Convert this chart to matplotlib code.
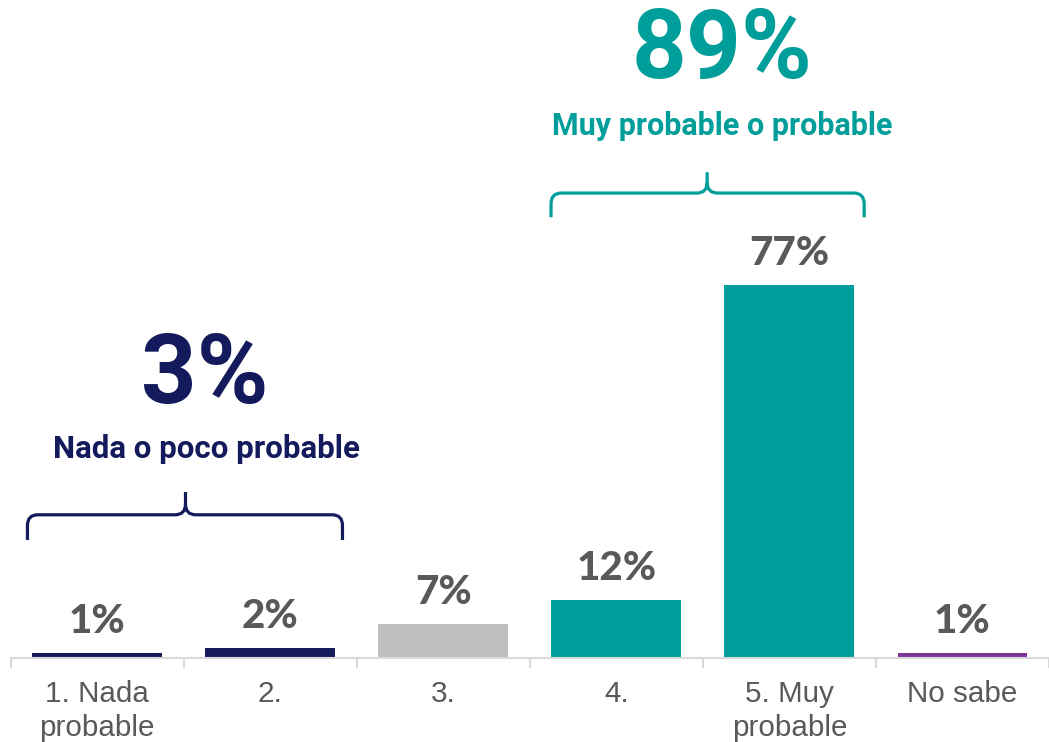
import matplotlib.pyplot as plt
from matplotlib.path import Path
from matplotlib.patches import PathPatch

categories = ['1. Nada\nprobable', '2.', '3.', '4.', '5. Muy\nprobable', 'No sabe']
values = [1, 2, 7, 12, 77, 1]
labels = ['1%', '2%', '7%', '12%', '77%', '1%']

group_values = ['3%', '89%']
group_names = ['Nada o poco probable', 'Muy probable o probable']

NAVY = '#141B5C'
TEAL = '#009E9A'
GRAY = '#BFBFBF'
PURPLE = '#7F3598'
TEXT = '#595959'
colors = [NAVY, NAVY, GRAY, TEAL, TEAL, PURPLE]

W, H = 1049, 742
fig = plt.figure(figsize=(W / 100, H / 100), dpi=100)
ax = fig.add_axes([10.5 / W, (H - 658) / H, (W - 10.5) / W, 658 / H])

x = list(range(len(categories)))
ax.bar(x, values, width=0.75, color=colors, zorder=2)
ax.set_xlim(-0.5, 5.457)
ax.set_ylim(0, 136)

for xi, v, lab in zip(x, values, labels):
    ax.annotate(lab, (xi, v), xytext=(0, 14.5), textcoords='offset points',
                ha='center', va='baseline', fontsize=29, fontweight='black',
                family='Lato', color=TEXT)

# axis styling
for s in ['top', 'right', 'left']:
    ax.spines[s].set_visible(False)
ax.spines['bottom'].set_color('#D9D9D9')
ax.spines['bottom'].set_linewidth(1.5)
ax.set_yticks([])
ax.set_xticks([i - 0.5 for i in range(len(categories) + 1)], minor=False)
ax.set_xticklabels([])
ax.tick_params(axis='x', which='major', length=7, color='#D9D9D9', width=1.5)
ax.set_xticks(x, minor=True)
ax.set_xticklabels(categories, minor=True, fontsize=21.3, color=TEXT,
                   family='Liberation Sans', linespacing=1.25)
ax.tick_params(axis='x', which='minor', length=0, pad=16)


def brace(x0, x1, xm, y, drop, rise, color):
    r = 0.06
    ry = 2.2
    verts = [
        (x0, y - drop), (x0, y - ry), (x0, y), (x0 + r, y),
        (xm - r, y), (xm, y), (xm, y + ry),
        (xm, y + rise),
        (xm, y + ry), (xm, y), (xm + r, y),
        (x1 - r, y), (x1, y), (x1, y - ry),
        (x1, y - drop),
    ]
    codes = [Path.MOVETO, Path.LINETO, Path.CURVE3, Path.CURVE3,
             Path.LINETO, Path.CURVE3, Path.CURVE3,
             Path.LINETO,
             Path.MOVETO, Path.CURVE3, Path.CURVE3,
             Path.LINETO, Path.CURVE3, Path.CURVE3,
             Path.LINETO]
    ax.add_patch(PathPatch(Path(verts, codes), fill=False, edgecolor=color,
                           lw=2.3, capstyle='butt', clip_on=False))


brace(-0.402, 1.418, 0.511, 29.6, 5.2, 4.7, NAVY)
brace(2.623, 4.432, 3.525, 96.1, 5.0, 4.3, TEAL)

ax.text(0.62, 58.1, group_values[0], ha='center', va='center', fontsize=70,
        fontweight='bold', family='Roboto', color=NAVY)
ax.text(0.63, 43.2, group_names[0], ha='center', va='center', fontsize=22.5,
        fontweight='bold', family='Roboto', color=NAVY)
ax.text(3.611, 125.3, group_values[1], ha='center', va='center', fontsize=69,
        fontweight='bold', family='Roboto', color=TEAL)
ax.text(3.611, 110.0, group_names[1], ha='center', va='center', fontsize=22,
        fontweight='bold', family='Roboto', color=TEAL)

fig.savefig('out.png', dpi=100)
